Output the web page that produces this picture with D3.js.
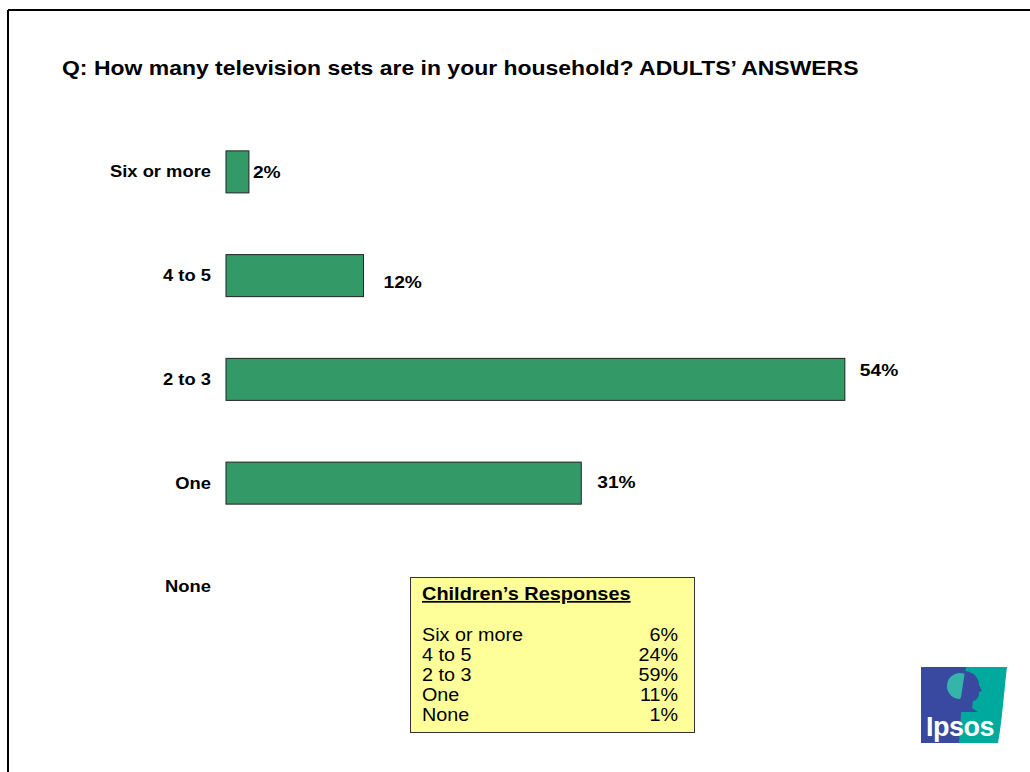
<!DOCTYPE html>
<html>
<head>
<meta charset="utf-8">
<script src="https://cdn.jsdelivr.net/npm/d3@7"></script>
<style>
  html, body { margin: 0; padding: 0; background: #ffffff; }
  svg { display: block; }
  text { font-family: "Liberation Sans", Arial, sans-serif; }
</style>
</head>
<body>
<svg id="chart" width="1030" height="772"></svg>
<script>
// Adults' answers: number of TV sets in the household (percent)
const categories = ["Six or more", "4 to 5", "2 to 3", "One", "None"];
const adultValues = [2, 12, 54, 31, 0];
const adultLabels = ["2%", "12%", "54%", "31%", ""];

// Hand-placed label nudges (dx, dy) beyond the bar end
const labelNudge = [[4, 0], [20, 6], [15, -9], [16, -1], [0, 0]];

// Children's responses shown in the side panel
const childCategories = ["Six or more", "4 to 5", "2 to 3", "One", "None"];
const childLabels = ["6%", "24%", "59%", "11%", "1%"];

const titleText = "Q: How many television sets are in your household? ADULTS\u2019 ANSWERS";

// Slide typography is slightly wide; text is stretched horizontally
const WIDE = 1.13;

const svg = d3.select("#chart");

// Place a text at (x, y) with a horizontal stretch
function wideText(sel, x, y, s) {
  return sel.attr("x", null).attr("y", null)
    .attr("transform", (d, i) => {
      const px = typeof x === "function" ? x(d, i) : x;
      const py = typeof y === "function" ? y(d, i) : y;
      return `translate(${px},${py}) scale(${s},1)`;
    });
}

// Slide frame (top and left rules)
svg.append("line").attr("x1", 8).attr("x2", 1030).attr("y1", 10).attr("y2", 10)
  .attr("stroke", "#000").attr("stroke-width", 2);
svg.append("line").attr("x1", 8).attr("x2", 8).attr("y1", 10).attr("y2", 772)
  .attr("stroke", "#000").attr("stroke-width", 2);

// Title
svg.append("text")
  .call(wideText, 62, 75, 1.178)
  .attr("font-size", 19.5).attr("font-weight", "bold").attr("fill", "#000")
  .text(titleText);

// Scales
const x = d3.scaleLinear().domain([0, 60]).range([226, 226 + 687.6]);
const y = d3.scaleBand().domain(categories).range([120, 638.75])
  .paddingInner(0.595).paddingOuter(0.2975);

// Category axis (labels only)
const yAxis = d3.axisLeft(y).tickSize(0).tickPadding(15);
const yg = svg.append("g").attr("transform", `translate(${x(0)},0)`).call(yAxis);
yg.select(".domain").remove();
yg.selectAll(".tick text")
  .attr("font-family", "\"Liberation Sans\", Arial, sans-serif")
  .attr("font-size", 17).attr("font-weight", "bold").attr("fill", "#000")
  .attr("x", -15 / 1.08)
  .attr("transform", "scale(1.08,1)");

// Bars
const rows = categories.map((c, i) => ({ c, v: adultValues[i], label: adultLabels[i], nudge: labelNudge[i] }));
svg.append("g").selectAll("rect")
  .data(rows.filter(d => d.v > 0))
  .join("rect")
  .attr("x", x(0))
  .attr("y", d => y(d.c))
  .attr("width", d => x(d.v) - x(0))
  .attr("height", y.bandwidth())
  .attr("fill", "#339966")
  .attr("stroke", "#222")
  .attr("stroke-width", 1);

// Value labels
svg.append("g").selectAll("text")
  .data(rows.filter(d => d.label))
  .join("text")
  .call(wideText, d => x(d.v) + d.nudge[0], d => y(d.c) + y.bandwidth() / 2 + d.nudge[1], WIDE)
  .attr("dy", "0.35em")
  .attr("font-size", 17).attr("font-weight", "bold").attr("fill", "#000")
  .text(d => d.label);

// Children's responses panel
const panel = svg.append("g").attr("transform", "translate(410,577)");
panel.append("rect")
  .attr("x", 0.5).attr("y", 0.5).attr("width", 284).attr("height", 155)
  .attr("fill", "#FFFF99").attr("stroke", "#333").attr("stroke-width", 1);
panel.append("text")
  .call(wideText, 12, 23, 1.14)
  .attr("font-size", 17.5).attr("font-weight", "bold").attr("fill", "#000")
  .attr("text-decoration", "underline")
  .text("Children\u2019s Responses");
const rowY = d3.scalePoint().domain(childCategories).range([64, 144]);
panel.selectAll("text.cat")
  .data(childCategories)
  .join("text").attr("class", "cat")
  .call(wideText, 12, d => rowY(d), WIDE)
  .attr("font-size", 17.5).attr("fill", "#000")
  .text(d => d);
panel.selectAll("text.val")
  .data(childCategories.map((c, i) => ({ c, t: childLabels[i] })))
  .join("text").attr("class", "val")
  .call(wideText, 268, d => rowY(d.c), WIDE)
  .attr("text-anchor", "end")
  .attr("font-size", 17.5).attr("fill", "#000")
  .text(d => d.t);

// Ipsos logo
const logo = svg.append("g").attr("transform", "translate(921,667)");
logo.append("path")
  .attr("d", "M0,0 H86 C83,25 81,55 77,76 H0 Z")
  .attr("fill", "#00A99D");
logo.append("path")
  .attr("d", "M0,0 H45 C41,25 40,50 38,76 H0 Z")
  .attr("fill", "#3949A0");
// crown of the tree-head (left) and face profile (right)
logo.append("circle").attr("cx", 39).attr("cy", 19).attr("r", 13).attr("fill", "#35B5AA");
logo.append("path")
  .attr("d", "M44,4 C53,5 58,11 58,18 L61,24 L58,25 C58,30 56,33 52,34 L51,41 L57,45 H28 L36,39 L40,30 Z")
  .attr("fill", "#3949A0");
logo.append("text")
  .attr("x", 5).attr("y", 69)
  .attr("font-family", "\"Open Sans\", \"Liberation Sans\", sans-serif")
  .attr("font-size", 27).attr("font-weight", "600").attr("fill", "#ffffff")
  .attr("letter-spacing", -0.5)
  .text("Ipsos");
</script>
</body>
</html>
